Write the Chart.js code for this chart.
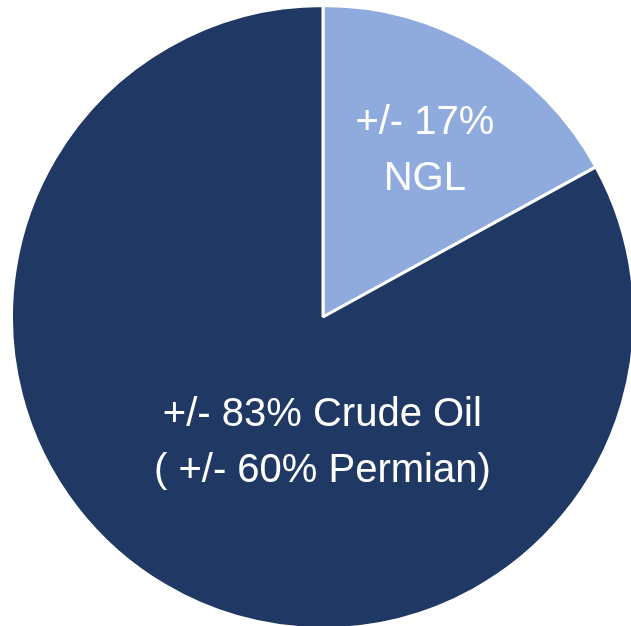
<!DOCTYPE html>
<html>
<head>
<meta charset="utf-8">
<script src="https://cdn.jsdelivr.net/npm/chart.js@4"></script>
<style>
  html, body { margin: 0; padding: 0; background: #fff; overflow: hidden; width: 631px; height: 626px; }
  #wrap { position: absolute; left: 10px; top: 4px; width: 626px; height: 626px; }
</style>
</head>
<body>
<div id="wrap"><canvas id="pieChart" width="626" height="626"></canvas></div>
<script>
// dados do gráfico
const categories = ['NGL', 'Crude Oil'];
const shares = [17, 83];
const sliceColors = ['#8FAADC', '#203864'];
const labelLines = [
  ['+/- 17%', 'NGL'],
  ['+/- 83% Crude Oil', '( +/- 60% Permian)']
];

// posição dos textos (fração do raio, a partir do centro)
const labelAnchors = [
  { dx: 0.327, dy: -0.533 },
  { dx: -0.002, dy: 0.403 }
];
const lineGap = 56;

const sliceLabels = {
  id: 'sliceLabels',
  afterDatasetsDraw(chart) {
    const ctx = chart.ctx;
    const arcs = chart.getDatasetMeta(0).data;
    ctx.save();
    ctx.fillStyle = '#ffffff';
    ctx.font = '40px "Liberation Sans", Arial, sans-serif';
    ctx.textAlign = 'center';
    ctx.textBaseline = 'middle';
    arcs.forEach((arc, i) => {
      const r = arc.outerRadius;
      const cx = arc.x + labelAnchors[i].dx * r;
      const cy = arc.y + labelAnchors[i].dy * r;
      const lines = labelLines[i];
      const start = cy - (lines.length - 1) * lineGap / 2;
      lines.forEach((t, k) => ctx.fillText(t, cx, start + k * lineGap));
    });
    ctx.restore();
  }
};

const ctxPie = document.getElementById('pieChart').getContext('2d');
const pieChart = new Chart(ctxPie, {
  type: 'pie',
  data: {
    labels: categories,
    datasets: [{
      data: shares,
      backgroundColor: sliceColors,
      borderColor: '#ffffff',
      borderWidth: 3
    }]
  },
  options: {
    responsive: false,
    animation: false,
    layout: { padding: 0 },
    plugins: {
      legend: { display: false },
      tooltip: { enabled: false }
    }
  },
  plugins: [sliceLabels]
});
</script>
</body>
</html>
